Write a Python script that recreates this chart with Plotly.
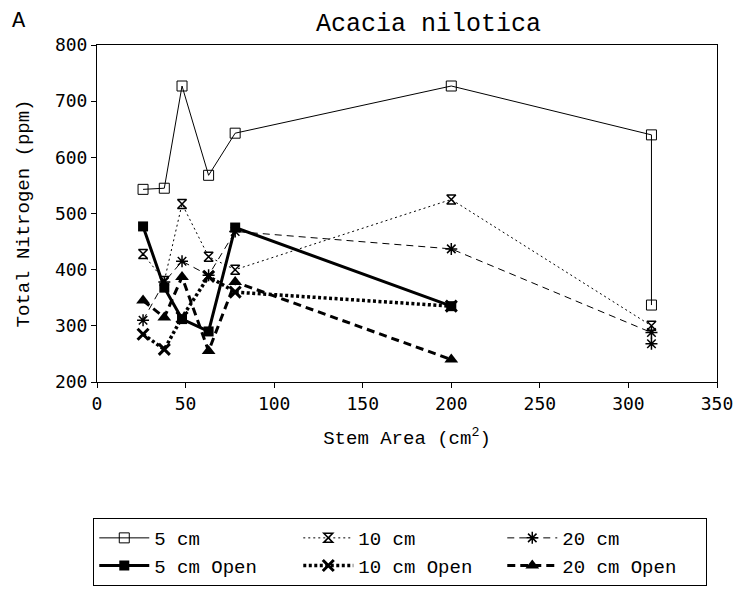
import plotly.graph_objects as go

# Stem area (cm^2) of the sampled trees and total nitrogen (ppm) at each depth
x_5cm = [26, 38, 48, 63, 78, 200, 313, 313]
n_5cm = [543, 545, 727, 568, 643, 727, 640, 337]

x_10cm = [26, 38, 48, 63, 78, 200, 313]
n_10cm = [428, 380, 517, 423, 400, 525, 300]

x_20cm = [26, 38, 48, 63, 78, 200, 313, 313]
n_20cm = [310, 378, 415, 390, 468, 437, 288, 268]

x_open = [26, 38, 48, 63, 78, 200]
n_5cm_open = [477, 368, 312, 290, 475, 335]
n_10cm_open = [285, 258, 315, 388, 360, 335]
n_20cm_open = [345, 315, 387, 255, 378, 240]

x_ticks = [0, 50, 100, 150, 200, 250, 300, 350]
y_ticks = [200, 300, 400, 500, 600, 700, 800]

MONO = "Liberation Mono"
TICKFONT = "DejaVu Sans Mono"

series = [
    ("5 cm", x_5cm, n_5cm, dict(width=1, dash="solid"),
     dict(symbol="square-open", size=10, line=dict(width=1))),
    ("10 cm", x_10cm, n_10cm, dict(width=1, dash="2px,3px"),
     dict(symbol="hourglass-open", size=9, line=dict(width=1.5))),
    ("20 cm", x_20cm, n_20cm, dict(width=1, dash="7px,5px"),
     dict(symbol="asterisk-open", size=10, line=dict(width=1.5))),
    ("5 cm Open", x_open, n_5cm_open, dict(width=3, dash="solid"),
     dict(symbol="square", size=10)),
    ("10 cm Open", x_open, n_10cm_open, dict(width=3.5, dash="3px,2.5px"),
     dict(symbol="x-thin-open", size=11, line=dict(width=3))),
    ("20 cm Open", x_open, n_20cm_open, dict(width=3, dash="8px,5px"),
     dict(symbol="triangle-up", size=12)),
]

fig = go.Figure()
for name, xs, ys, line, marker in series:
    line["color"] = "black"
    marker["color"] = "black"
    if "line" in marker:
        marker["line"]["color"] = "black"
    fig.add_trace(go.Scatter(x=xs, y=ys, name=name, mode="lines+markers",
                             line=line, marker=marker))

axis_common = dict(
    showgrid=False, zeroline=False, showline=True, mirror=True,
    linecolor="black", linewidth=1, ticks="outside", ticklen=5,
    tickcolor="black", tickfont=dict(family=TICKFONT, size=18, color="black"),
)

fig.update_xaxes(range=[0, 350], tickvals=x_ticks,
                 title=dict(text="Stem Area (cm<sup>2</sup>)", standoff=18,
                            font=dict(family=MONO, size=19, color="black")),
                 **axis_common)
fig.update_yaxes(range=[200, 800], tickvals=y_ticks,
                 title=dict(text="Total Nitrogen (ppm)", standoff=20,
                            font=dict(family=MONO, size=19, color="black")),
                 **axis_common)

fig.update_layout(
    width=735, height=592,
    margin=dict(l=97, r=18, t=45, b=210, autoexpand=False),
    paper_bgcolor="white", plot_bgcolor="white",
    title=dict(text="Acacia nilotica", x=0.583, xanchor="center",
               y=0.963, yanchor="middle",
               font=dict(family=MONO, size=25, color="black")),
    legend=dict(orientation="h", x=-0.006, xanchor="left",
                y=-0.4036, yanchor="top", entrywidth=139,
                bordercolor="black", borderwidth=1, bgcolor="white",
                font=dict(family=MONO, size=19, color="black"),
                itemwidth=50, tracegroupgap=0),
    showlegend=True,
    annotations=[dict(text="A", xref="paper", yref="paper",
                      x=-0.14, y=1.07, xanchor="left", yanchor="middle",
                      showarrow=False,
                      font=dict(family=MONO, size=22, color="black"))],
)

fig.write_html("out.html")
